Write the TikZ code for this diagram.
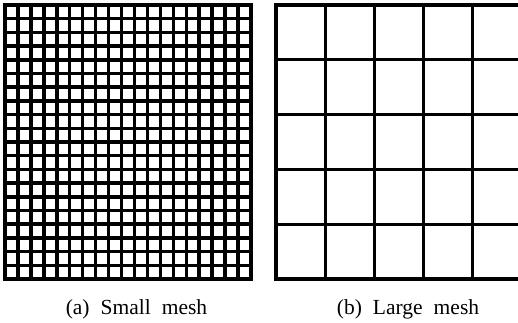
\documentclass[tikz,border=0pt]{standalone}
\usepackage{fontspec}
\setmainfont{Liberation Serif}
\begin{document}
\begin{tikzpicture}[x=1pt,y=-1pt,
  fineline/.style={line width=3.5pt,black},
  gridline/.style={line width=3pt,black},
  frameline/.style={line width=4.4pt,black},
  caption/.style={anchor=base,inner sep=0pt,font=\fontsize{21.5}{24}\selectfont}]
\useasboundingbox[fill=white] (0,0) rectangle (518,323);
% fine mesh: 19 columns by 20 rows
\foreach \i in {1,...,18}
  \draw[fineline] ({5+\i*246/19},5) -- ({5+\i*246/19},279);
\foreach \j in {1,...,19}
  \draw[fineline] (5,{5+\j*274/20}) -- (251,{5+\j*274/20});
\draw[frameline] (5,5) rectangle (251,279);
% coarse mesh, running off the right edge
\foreach \i in {1,...,4}
  \draw[gridline] ({276+\i*49},5) -- ({276+\i*49},279);
\foreach \j in {1,...,4}
  \draw[gridline] (276,{5+\j*274/5}) -- (518,{5+\j*274/5});
\draw[frameline] (518,5) -- (276,5) -- (276,279) -- (518,279);
% captions
\node[caption] (capa) at (136.5,314) {(a)\hspace{11pt}Small\hspace{11pt}mesh};
\node[caption] (capb) at (408,314) {(b)\hspace{11pt}Large\hspace{11pt}mesh};
\end{tikzpicture}
\end{document}
